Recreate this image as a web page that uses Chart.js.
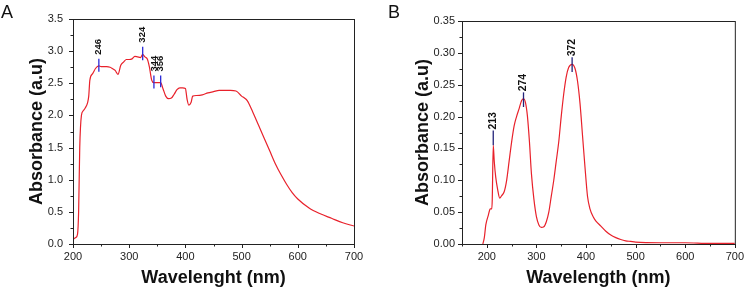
<!DOCTYPE html>
<html>
<head>
<meta charset="utf-8">
<script src="https://cdn.jsdelivr.net/npm/chart.js@4.4.1/dist/chart.umd.min.js"></script>
<style>
  html, body { margin: 0; padding: 0; background: #fff; }
  #wrap { position: relative; width: 750px; height: 293px; font-family: "Liberation Sans", Arial, sans-serif; }
  .panel { position: absolute; top: 0; width: 375px; height: 293px; }
  .tag { position: absolute; top: 2px; font-size: 18px; color: #111; }
</style>
</head>
<body>
<div id="wrap">
  <div class="panel" style="left:0"><canvas id="chartA" width="375" height="293"></canvas></div>
  <div class="panel" style="left:375px"><canvas id="chartB" width="375" height="293"></canvas></div>
  <div class="tag" style="left:1px">A</div>
  <div class="tag" style="left:388px">B</div>
</div>
<script>
// panel A: absorbance spectrum
const wlA = [200, 205, 208, 210, 212, 215, 218, 222, 226, 228, 230, 235, 240, 246, 250, 260, 266, 270, 275, 280,
  285, 290, 295, 300, 305, 310, 315, 320, 324, 328, 332, 336, 340, 344, 350, 356, 360, 365, 370, 375,
  380, 385, 390, 395, 400, 403, 406, 410, 413, 420, 430, 440, 450, 460, 470, 480, 490, 500, 505, 510,
  520, 530, 540, 550, 560, 570, 580, 590, 600, 620, 640, 660, 680, 700];
const absA = [0.07, 0.10, 0.15, 0.50, 1.50, 2.00, 2.07, 2.12, 2.20, 2.30, 2.55, 2.65, 2.73, 2.77, 2.76, 2.76, 2.75, 2.73, 2.70, 2.64,
  2.78, 2.83, 2.87, 2.87, 2.88, 2.92, 2.91, 2.90, 2.95, 2.91, 2.88, 2.75, 2.55, 2.51, 2.51, 2.51, 2.42, 2.30, 2.26, 2.27,
  2.33, 2.40, 2.43, 2.43, 2.42, 2.25, 2.16, 2.20, 2.30, 2.31, 2.32, 2.35, 2.37, 2.39, 2.39, 2.39, 2.38, 2.30, 2.27, 2.23,
  2.05, 1.85, 1.65, 1.45, 1.25, 1.08, 0.93, 0.80, 0.70, 0.56, 0.47, 0.40, 0.33, 0.28];
const peaksA = [246, 324, 344, 356];
const peakLowA = [2.68, 2.86, 2.42, 2.44];
const peakHighA = [2.88, 3.07, 2.62, 2.62];
const xTicksA = [200, 300, 400, 500, 600, 700];
const yTicksA = [0, 0.5, 1.0, 1.5, 2.0, 2.5, 3.0, 3.5];

// panel B
const wlB = [192, 195, 198, 203, 207, 210, 211, 213, 215, 218, 222, 226, 230, 235, 240, 245, 250, 255, 260, 265,
  270, 274, 278, 282, 286, 290, 295, 300, 305, 310, 315, 320, 325, 330, 335, 340, 345, 350, 355, 360,
  365, 372, 378, 383, 388, 393, 398, 403, 408, 415, 420, 430, 440, 450, 460, 470, 480, 490, 500, 550,
  600, 650, 700];
const absB = [0.000, 0.010, 0.030, 0.045, 0.055, 0.055, 0.070, 0.155, 0.130, 0.105, 0.085, 0.072, 0.076, 0.082, 0.100, 0.130, 0.160, 0.185, 0.200, 0.212,
  0.225, 0.228, 0.222, 0.200, 0.160, 0.110, 0.070, 0.043, 0.030, 0.026, 0.027, 0.035, 0.050, 0.075, 0.100, 0.130, 0.160, 0.200, 0.235, 0.262,
  0.277, 0.282, 0.275, 0.255, 0.220, 0.170, 0.120, 0.075, 0.055, 0.042, 0.036, 0.028, 0.020, 0.014, 0.010, 0.007, 0.005, 0.004, 0.003, 0.002,
  0.002, 0.001, 0.001];
const peaksB = [213, 274, 372];
const peakLowB = [0.155, 0.215, 0.270];
const peakHighB = [0.178, 0.238, 0.293];
const xTicksB = [200, 300, 400, 500, 600, 700];
const yTicksB = [0, 0.05, 0.10, 0.15, 0.20, 0.25, 0.30, 0.35];

const FONT = '"Liberation Sans", Arial, sans-serif';

const toPoints = (xs, ys) => xs.map((x, i) => ({ x, y: ys[i] }));

// frame, ticks (major + minor) and peak markers
const decor = {
  id: 'decor',
  afterDraw(chart, args, opts) {
    const { ctx, chartArea: a, scales: { x, y } } = chart;
    ctx.save();
    ctx.strokeStyle = '#222';
    ctx.lineWidth = 1;
    ctx.strokeRect(a.left + 0.5, a.top + 0.5, a.right - a.left, a.bottom - a.top);
    ctx.beginPath();
    for (let v = x.min; v <= x.max + 1e-9; v += opts.xMinor) {
      const px = Math.round(x.getPixelForValue(v)) + 0.5;
      const major = opts.xTicks.includes(v);
      ctx.moveTo(px, a.bottom);
      ctx.lineTo(px, a.bottom + (major ? 4 : 2.5));
    }
    for (let v = y.min; v <= y.max + 1e-9; v += opts.yMinor) {
      const py = Math.round(y.getPixelForValue(v)) + 0.5;
      const major = opts.yTicks.some(t => Math.abs(t - v) < 1e-9);
      ctx.moveTo(a.left, py);
      ctx.lineTo(a.left - (major ? 4 : 2.5), py);
    }
    ctx.stroke();

    ctx.strokeStyle = opts.markColor;
    ctx.lineWidth = 1.3;
    ctx.fillStyle = '#111';
    ctx.font = opts.labelFont;
    ctx.textAlign = 'left';
    ctx.textBaseline = 'middle';
    opts.peaks.forEach((p, i) => {
      const px = x.getPixelForValue(p);
      const top = y.getPixelForValue(opts.high[i]);
      ctx.beginPath();
      ctx.moveTo(px, y.getPixelForValue(opts.low[i]));
      ctx.lineTo(px, top);
      ctx.stroke();
      ctx.save();
      ctx.translate(px, top - opts.gap);
      ctx.rotate(-Math.PI / 2);
      ctx.fillText(String(p), 0, 0);
      ctx.restore();
    });
    ctx.restore();
  }
};

const makeChart = (id, cfg) => new Chart(document.getElementById(id), {
  type: 'line',
  data: {
    datasets: [{
      data: toPoints(cfg.xs, cfg.ys),
      borderColor: '#e8212b',
      borderWidth: 1.2,
      pointRadius: 0,
      cubicInterpolationMode: 'monotone',
      fill: false
    }]
  },
  options: {
    responsive: false,
    animation: false,
    layout: { padding: cfg.padding },
    plugins: {
      legend: { display: false },
      tooltip: { enabled: false },
      decor: cfg.decor
    },
    scales: {
      x: {
        type: 'linear',
        min: cfg.xMin,
        max: 700,
        grid: { display: false, drawTicks: false },
        border: { display: false },
        afterBuildTicks: s => { s.ticks = cfg.xTicks.map(v => ({ value: v })); },
        afterFit: s => { s.height = cfg.xHeight; },
        ticks: { color: '#222', font: { family: FONT, size: 11 }, padding: 6, maxRotation: 0 },
        title: { display: true, text: cfg.xTitle, color: '#111', font: { family: FONT, size: 18, weight: 'bold' }, padding: { top: 0, bottom: 4 } }
      },
      y: {
        min: 0,
        max: cfg.yMax,
        grid: { display: false, drawTicks: false },
        border: { display: false },
        afterBuildTicks: s => { s.ticks = cfg.yTicks.map(v => ({ value: v })); },
        afterFit: s => { s.width = cfg.yWidth; },
        ticks: { color: '#222', font: { family: FONT, size: 11 }, padding: cfg.yPad, callback: v => v.toFixed(cfg.digits) },
        title: { display: true, text: 'Absorbance (a.u)', color: '#111', font: { family: FONT, size: 18, weight: 'bold' }, padding: { top: cfg.yTitlePad, bottom: 0 } }
      }
    }
  },
  plugins: [decor]
});

makeChart('chartA', {
  xs: wlA, ys: absA, xMin: 200, yMax: 3.5, digits: 1,
  xTicks: xTicksA, yTicks: yTicksA,
  padding: { top: 19, right: 21, left: 0, bottom: 0 },
  xHeight: 49, yWidth: 73, yPad: 10, yTitlePad: 26,
  xTitle: 'Wavelenght (nm)',
  decor: { xMinor: 50, yMinor: 0.25, xTicks: xTicksA, yTicks: yTicksA, peaks: peaksA, low: peakLowA, high: peakHighA,
    markColor: '#2a2ad8', labelFont: '600 9.5px ' + FONT, gap: 4 }
});

makeChart('chartB', {
  xs: wlB, ys: absB, xMin: 150, yMax: 0.35, digits: 2,
  xTicks: xTicksB, yTicks: yTicksB,
  padding: { top: 21, right: 9, left: 0, bottom: 0 },
  xHeight: 49, yWidth: 87, yPad: 7, yTitlePad: 37,
  xTitle: 'Wavelength (nm)',
  decor: { xMinor: 50, yMinor: 0.025, xTicks: xTicksB, yTicks: yTicksB, peaks: peaksB, low: peakLowB, high: peakHighB,
    markColor: '#23237a', labelFont: '600 10.5px ' + FONT, gap: 1 }
});
</script>
</body>
</html>
